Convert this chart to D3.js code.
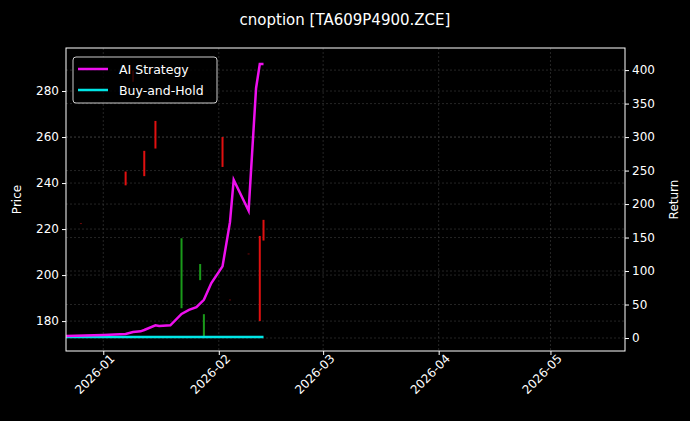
<!DOCTYPE html>
<html>
<head>
<meta charset="utf-8">
<script src="https://cdn.jsdelivr.net/npm/d3@7"></script>
<style>
  body { margin: 0; background: #000; }
  text { font-family: "DejaVu Sans", sans-serif; fill: #fff; }
</style>
</head>
<body>
<div id="svg-container"></div>
<script>
// data
const candleDates = ["2025-12-26", "2026-01-07", "2026-01-09", "2026-01-12", "2026-01-15", "2026-01-22", "2026-01-27", "2026-01-28", "2026-02-02", "2026-02-04", "2026-02-09", "2026-02-12", "2026-02-13"];
const candleOpen  = [222.6, 245, 289, 254, 267, 185.6, 197.8, 172.6, 260, 189.4, 209.4, 217, 224];
const candleClose = [222.4, 239, 284, 243, 255, 216, 204.8, 183, 247, 189.2, 209.2, 180, 215];

const retDates = ["2025-12-22", "2026-01-01", "2026-01-07", "2026-01-09", "2026-01-11", "2026-01-12", "2026-01-15", "2026-01-16", "2026-01-19", "2026-01-22", "2026-01-24", "2026-01-26", "2026-01-28", "2026-01-30", "2026-02-02", "2026-02-04", "2026-02-05", "2026-02-09", "2026-02-11", "2026-02-12", "2026-02-13"];
const aiReturn = [3, 4.5, 6, 9, 10, 12, 19, 18, 19, 36, 42, 46, 57, 82, 107, 173, 236, 190, 373, 409, 409];
const bhDates = ["2025-12-22", "2026-02-13"];
const bhReturn = [1.5, 1.5];

const priceTicks = [180, 200, 220, 240, 260, 280];
const returnTicks = [0, 50, 100, 150, 200, 250, 300, 350, 400];

////////////////////////////////////////////////////////////////////
// init
const width = 690, height = 421;
const margin = { top: 48, right: 65, bottom: 70, left: 66 };
const parse = d3.timeParse("%Y-%m-%d");

const svg = d3.select("#svg-container").append("svg")
  .attr("width", width).attr("height", height)
  .style("background", "#000");

const xScale = d3.scaleTime()
  .domain([parse("2025-12-22"), parse("2026-05-21")])
  .range([margin.left, width - margin.right]);
const yScale = d3.scaleLinear().domain([167, 298.7]).range([height - margin.bottom, margin.top]);
const rScale = d3.scaleLinear().domain([-19.4, 433]).range([height - margin.bottom, margin.top]);

const xTicks = ["2026-01-01", "2026-02-01", "2026-03-01", "2026-04-01", "2026-05-01"].map(parse);

// grid
const grid = svg.append("g").attr("stroke", "#4a4a4a").attr("stroke-dasharray", "2,2").attr("stroke-width", 0.5);
xTicks.forEach((t) => grid.append("line")
  .attr("x1", xScale(t)).attr("x2", xScale(t))
  .attr("y1", margin.top).attr("y2", height - margin.bottom));
priceTicks.forEach((t) => grid.append("line")
  .attr("x1", margin.left).attr("x2", width - margin.right)
  .attr("y1", yScale(t)).attr("y2", yScale(t)));
returnTicks.forEach((t) => grid.append("line")
  .attr("x1", margin.left).attr("x2", width - margin.right)
  .attr("y1", rScale(t)).attr("y2", rScale(t)));

// candles
candleDates.forEach((d, i) => {
  const o = candleOpen[i], c = candleClose[i];
  svg.append("rect")
    .attr("x", xScale(parse(d)) - 1)
    .attr("width", 2)
    .attr("y", yScale(Math.max(o, c)))
    .attr("height", Math.max(1, Math.abs(yScale(o) - yScale(c))))
    .attr("fill", c >= o ? "#1a9a1a" : "#e01010")
    .attr("opacity", Math.abs(o - c) < 1 ? 0.5 : 1);
});

// lines
const line = d3.line()
  .x((d) => xScale(d[0]))
  .y((d) => rScale(d[1]));

svg.append("path")
  .datum(bhDates.map((d, i) => [parse(d), bhReturn[i]]))
  .attr("d", line).attr("fill", "none")
  .attr("stroke", "#00e5e5").attr("stroke-width", 2.5);

svg.append("path")
  .datum(retDates.map((d, i) => [parse(d), aiReturn[i]]))
  .attr("d", line).attr("fill", "none")
  .attr("stroke", "#ee10ee").attr("stroke-width", 2.5);

// frame
svg.append("rect")
  .attr("x", margin.left).attr("y", margin.top)
  .attr("width", width - margin.left - margin.right)
  .attr("height", height - margin.top - margin.bottom)
  .attr("fill", "none").attr("stroke", "#fff").attr("stroke-width", 1);

// axes
const styleAxis = (g) => {
  g.select(".domain").remove();
  g.selectAll("line").attr("stroke", "#fff");
  g.selectAll("text").attr("font-size", 12).style("fill", "#fff").attr("font-family", "DejaVu Sans");
};

svg.append("g")
  .attr("transform", `translate(0, ${height - margin.bottom})`)
  .call(d3.axisBottom(xScale).tickValues(xTicks).tickFormat(d3.timeFormat("%Y-%m")).tickSize(4))
  .call(styleAxis)
  .selectAll("text")
  .attr("text-anchor", "end")
  .attr("dx", "0.2em").attr("dy", "0.6em")
  .attr("transform", "rotate(-45)");

svg.append("g")
  .attr("transform", `translate(${margin.left}, 0)`)
  .call(d3.axisLeft(yScale).tickValues(priceTicks).tickSize(4))
  .call(styleAxis);

svg.append("g")
  .attr("transform", `translate(${width - margin.right}, 0)`)
  .call(d3.axisRight(rScale).tickValues(returnTicks).tickSize(4))
  .call(styleAxis);

// labels
svg.append("text").attr("x", 345).attr("y", 25)
  .attr("text-anchor", "middle").attr("font-size", 15).text("cnoption [TA609P4900.ZCE]");
svg.append("text").attr("transform", `translate(21, ${(margin.top + height - margin.bottom) / 2}) rotate(-90)`)
  .attr("text-anchor", "middle").attr("font-size", 12).text("Price");
svg.append("text").attr("transform", `translate(678, ${(margin.top + height - margin.bottom) / 2}) rotate(-90)`)
  .attr("text-anchor", "middle").attr("font-size", 12).text("Return");

// legend
const legend = svg.append("g").attr("transform", "translate(73, 57)");
legend.append("rect").attr("width", 144).attr("height", 46).attr("rx", 3)
  .attr("fill", "#000").attr("fill-opacity", 0.8).attr("stroke", "#ccc");
[["AI Strategy", "#ee10ee"], ["Buy-and-Hold", "#00e5e5"]].forEach(([name, col], i) => {
  const y = 12 + i * 21;
  legend.append("line").attr("x1", 5).attr("x2", 35).attr("y1", y).attr("y2", y)
    .attr("stroke", col).attr("stroke-width", 2.5);
  legend.append("text").attr("x", 46).attr("y", y + 4.5).attr("font-size", 12.5).text(name);
});
</script>
</body>
</html>
